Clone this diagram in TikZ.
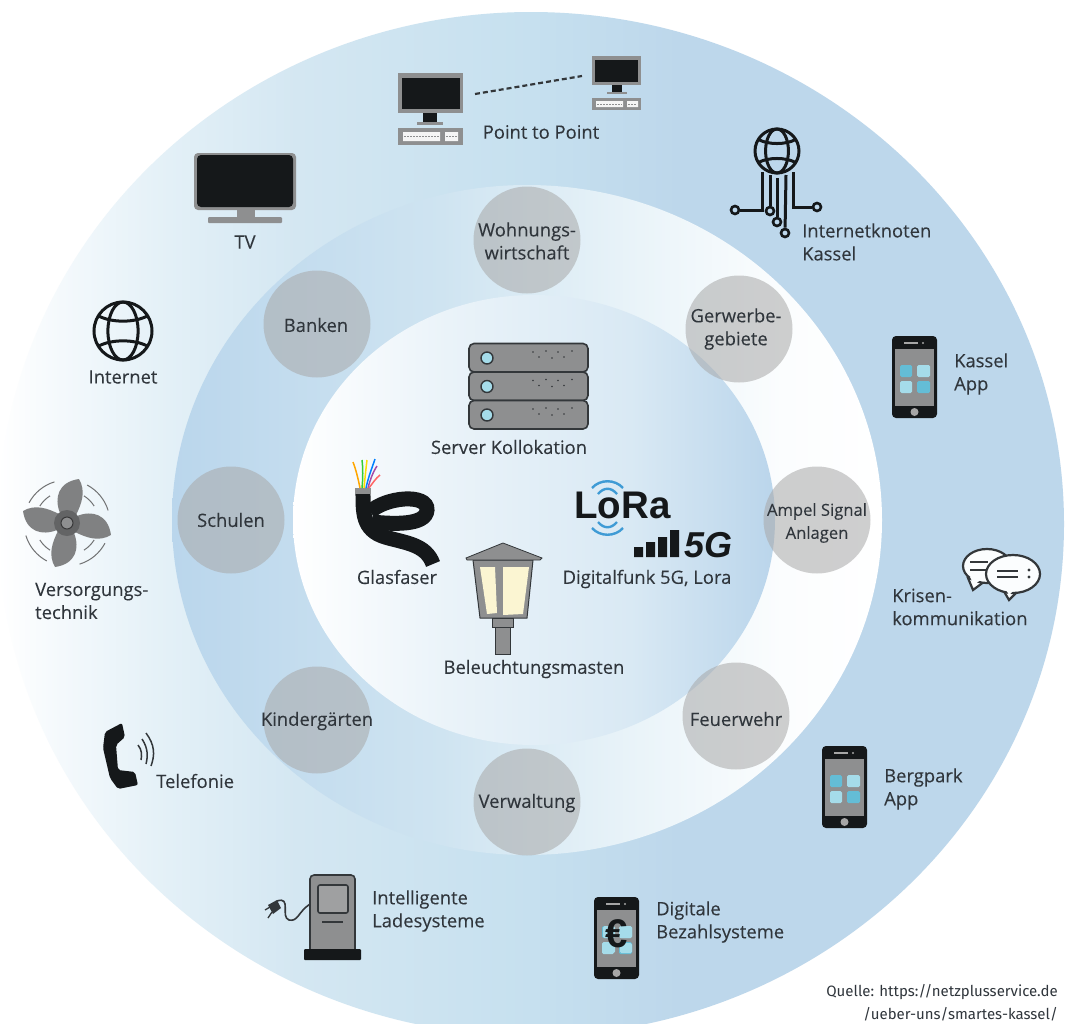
\documentclass[tikz,border=0pt]{standalone}
\usepackage{fontspec}
\setmainfont[FakeBold=0.12]{Open Sans}
\newfontfamily\srcfont{Fira Sans}
\newfontfamily\boldfont{Liberation Sans}
\definecolor{ink}{HTML}{30363C}
\definecolor{iconblack}{HTML}{15181A}
\definecolor{icongrey}{HTML}{8E8F90}
\definecolor{darkline}{HTML}{33373A}
\definecolor{ringblue}{HTML}{BDD7EB}
\definecolor{oA}{HTML}{F4F9FC}\definecolor{oB}{HTML}{E3F0F7}\definecolor{oC}{HTML}{D4E7F2}\definecolor{oD}{HTML}{C6E0EF}
\definecolor{mA}{HTML}{BAD6EC}\definecolor{mB}{HTML}{CFE4F1}\definecolor{mC}{HTML}{EAF4F9}\definecolor{mD}{HTML}{FBFDFE}
\definecolor{iA}{HTML}{EAF3F9}\definecolor{iB}{HTML}{D9E9F4}\definecolor{iC}{HTML}{BAD5EB}
\definecolor{appdark}{HTML}{64BDD6}\definecolor{applight}{HTML}{A5DCEA}
\definecolor{lorablue}{HTML}{3F9BD5}
\definecolor{pane}{HTML}{FBF5D2}
\definecolor{hubgrey}{HTML}{A8A8A8}
\pgfdeclarehorizontalshading{outershade}{100bp}{color(0bp)=(white);color(25bp)=(white);color(28bp)=(oA);color(33bp)=(oB);color(39bp)=(oC);color(50bp)=(oD);color(57bp)=(ringblue);color(100bp)=(ringblue)}
\pgfdeclarehorizontalshading{middleshade}{100bp}{color(0bp)=(mA);color(25bp)=(mA);color(44bp)=(mB);color(58bp)=(mC);color(68bp)=(mD);color(75bp)=(white);color(100bp)=(white)}
\pgfdeclarehorizontalshading{innershade}{100bp}{color(0bp)=(white);color(25bp)=(white);color(41bp)=(iA);color(60bp)=(iB);color(75bp)=(iC);color(100bp)=(iC)}
\tikzset{
 lbl/.style={font=\fontsize{18.4}{23}\selectfont,text=ink,inner sep=0pt,anchor=west,align=left},
 clbl/.style={font=\fontsize{18.4}{23}\selectfont,text=ink,inner sep=0pt,align=center},
 hub/.style={circle,minimum size=107pt,inner sep=0pt,fill=hubgrey,fill opacity=.55},
 wire/.style={line width=3pt,draw=iconblack},
 pinhole/.style={circle,draw=iconblack,line width=2.6pt,fill=none,minimum size=8pt,inner sep=0pt},
 appsq/.style={rounded corners=1.5pt},
 phoneicon/.pic={
  \fill[iconblack,rounded corners=4pt] (0,0) rectangle (45,82);
  \fill[icongrey] (3,13) rectangle (42,70);
  \draw[line width=1.2pt,draw=gray!70] (12,7) -- (26,7);
  \fill[gray!70] (31,7) circle (1.2);
  \fill[gray!70!white] (22.5,76) circle (4);
  \fill[appdark,appsq] (8,29) rectangle (20,41);
  \fill[applight,appsq] (25,29) rectangle (38,41);
  \fill[applight,appsq] (8,45) rectangle (20,57);
  \fill[appdark,appsq] (25,45) rectangle (38,57);
 },
 globeicon/.pic={
  \draw[wire] (0,0) circle (#1);
  \draw[wire] (0,0) ellipse ({0.52*#1} and #1);
  \draw[wire] ({-0.84*#1},{-0.52*#1}) .. controls ({-0.4*#1},{-0.28*#1}) and ({0.4*#1},{-0.28*#1}) .. ({0.84*#1},{-0.52*#1});
  \draw[wire] ({-0.84*#1},{0.52*#1}) .. controls ({-0.4*#1},{0.28*#1}) and ({0.4*#1},{0.28*#1}) .. ({0.84*#1},{0.52*#1});
 },
 keybits/.style={draw=icongrey,line width=1pt,dash pattern=on 2pt off 1pt},
 x=1pt,y=-1pt
}
\begin{document}
\begin{tikzpicture}
\useasboundingbox (0,0) rectangle (1071,1023);
\clip (0,0) rectangle (1071,1023);
\fill[white] (0,0) rectangle (1071,1023);
% rings
\shade[shading=outershade] (531,524) ellipse [x radius=533,y radius=512];
\shade[shading=middleshade] (527,520) ellipse [x radius=355,y radius=335];
\shade[shading=innershade] (534,520) ellipse [x radius=241,y radius=225];
% hub circles
\node[hub] (wohnung) at (527,240) {};
\node[hub] (gewerbe) at (739,329) {};
\node[hub] (ampel) at (817,520) {};
\node[hub] (feuer) at (736,716) {};
\node[hub] (verwalt) at (527,802) {};
\node[hub] (kinder) at (317,720) {};
\node[hub] (schulen) at (231,520) {};
\node[hub] (banken) at (317,324) {};
\node[clbl] (twohnung) at (527,241) {Wohnungs-\\wirtschaft};
\node[clbl] (tgewerbe) at (736,329) {Gerwerbe-\\gebiete};
\node[clbl,font=\fontsize{16.6}{23}\selectfont] (tampel) at (817,523) {Ampel Signal\\Anlagen};
\node[clbl] (tfeuer) at (736,719) {Feuerwehr};
\node[clbl] (tverwalt) at (527,803) {Verwaltung};
\node[clbl] (tkinder) at (317,721) {Kindergärten};
\node[clbl] (tschulen) at (231,520) {Schulen};
\node[clbl] (tbanken) at (316,325) {Banken};
% point to point
\fill[icongrey] (398,73) rectangle (463,113);
\fill[iconblack] (402,78) rectangle (460,109);
\fill[iconblack] (423,113) rectangle (437,122);
\fill[icongrey] (417,122) rectangle (443,125);
\fill[icongrey] (398,128) rectangle (463,145);
\fill[white!92!gray] (403,132) rectangle (440,141) (445,132) rectangle (458,141);
\draw[keybits] (404,136.5) -- (439,136.5) (446,136.5) -- (457,136.5);
\fill[icongrey] (592,56) rectangle (641,85);
\fill[iconblack] (595,60) rectangle (638,82);
\fill[iconblack] (612,85) rectangle (622,92);
\fill[icongrey] (607,92) rectangle (627,94);
\fill[icongrey] (592,98) rectangle (641,110);
\fill[white!92!gray] (596,101) rectangle (623,107) (627,101) rectangle (638,107);
\draw[keybits] (597,104) -- (622,104) (628,104) -- (637,104);
\coordinate (ptpA) at (475,94);
\coordinate (ptpB) at (582,76);
\draw[line width=2.2pt,draw=darkline,dash pattern=on 5pt off 3pt] (ptpA) -- (ptpB);
\node[clbl] (tptp) at (541,132) {Point to Point};
% TV
\fill[icongrey,rounded corners=4pt] (194,153) rectangle (296,210);
\fill[iconblack,rounded corners=4pt] (197,155) rectangle (293,207);
\fill[icongrey] (237,210) rectangle (255,218);
\fill[icongrey,rounded corners=1pt] (208,217) rectangle (282,223);
\node[clbl] (ttv) at (245,242) {TV};
% Internet
\pic at (123,331) {globeicon=29};
\node[clbl] (tinternet) at (123,377) {Internet};
% Fan
\begin{scope}[shift={(67,523)}]
 \foreach \a in {0,90,180,270}{
  \begin{scope}[rotate=\a]
   \fill[icongrey!90!black] (-7,-10) .. controls (-13,-25) and (-9,-41) .. (12,-44) .. controls (19,-32) and (15,-20) .. (9,-8) -- cycle;
   \draw[icongrey!80!black,line width=1pt] (208:43) arc[start angle=208,end angle=253,radius=43];
   \draw[icongrey!80!black,line width=1pt] (212:32) arc[start angle=212,end angle=238,radius=32];
  \end{scope}
 }
 \fill[icongrey!70!black] (0,0) circle (13);
 \draw[icongrey!40!black,line width=1pt,fill=icongrey] (0,0) circle (6);
\end{scope}
\node[lbl,align=left] (tversorg) at (35,601) {Versorgungs-\\technik};
% Telephone
\fill[iconblack,rounded corners=2pt] (122,723) -- (125,737) -- (116,745) -- (118,770) -- (135,772) -- (138,785) -- (118,789) -- (110,778) -- (103,748) -- (105,732) -- cycle;
\draw[darkline,line width=1.5pt] (138,745) .. controls (142,750) and (142,755) .. (141,760);
\draw[darkline,line width=1.5pt] (142,739) .. controls (148,748) and (148,756) .. (146,764);
\draw[darkline,line width=1.5pt] (146,733) .. controls (155,745) and (155,755) .. (151,766);
\node[lbl] (ttel) at (156,781) {Telefonie};
% Charger
\draw[darkline,line width=1.6pt,fill=icongrey,rounded corners=4pt] (310,950) -- (310,875) -- (355,875) -- (355,950);
\draw[darkline,line width=1.6pt,fill=icongrey!85!white,rounded corners=2pt] (318,885) rectangle (348,913);
\draw[darkline,line width=1.4pt] (322,922) -- (343,922);
\fill[iconblack,rounded corners=1pt] (304,949) rectangle (361,960);
\draw[darkline,line width=1.6pt] (310,904) .. controls (298,912) and (298,922) .. (289,920) .. controls (280,917) and (292,896) .. (277,901);
\fill[darkline] (268,905) -- (277,900) -- (281,908) -- (273,914) -- cycle;
\draw[darkline,line width=1.3pt] (270,907) -- (265,910) (272,912) -- (268,918);
\node[lbl] (tlade) at (372,911) {Intelligente\\Ladesysteme};
% Digitale Bezahlsysteme
\pic at (594,897) {phoneicon};
\fill[applight,appsq] (603,926) rectangle (615,938) (620,926) rectangle (632,938) (603,943) rectangle (615,953) (620,943) rectangle (632,953);
\node[font=\boldfont\bfseries\fontsize{40}{40}\selectfont,text=iconblack,inner sep=0pt] (euro) at (617,934) {€};
\node[lbl] (tbezahl) at (656,922) {Digitale\\Bezahlsysteme};
% Bergpark
\pic at (822,746) {phoneicon};
\node[lbl] (tberg) at (884,789) {Bergpark\\App};
% Kassel app
\pic at (892,336) {phoneicon};
\node[lbl] (tkassel) at (954,374) {Kassel\\App};
% Krisen
\begin{scope}
 \draw[darkline,line width=2.2pt,fill=white!94!ringblue] (968,578) -- (973,590) -- (985,581) -- cycle;
 \draw[darkline,line width=2.2pt,fill=white!94!ringblue] (987,566) ellipse [x radius=24,y radius=17];
 \fill[white!94!ringblue] (970,577) -- (974,585) -- (983,578) -- (980,572) -- cycle;
 \draw[darkline,line width=2.2pt,fill=white!94!ringblue] (1002,588) -- (1009,600) -- (1021,588) -- cycle;
 \draw[darkline,line width=2.2pt,fill=white!94!ringblue] (1013,574) ellipse [x radius=27,y radius=19];
 \fill[white!94!ringblue] (1004,586) -- (1009,595) -- (1018,586) -- (1016,582) -- cycle;
 \draw[darkline,line width=2.2pt] (970,562) -- (988,562) (970,570) -- (986,570);
 \draw[darkline,line width=2.2pt] (997,571) -- (1018,571) (997,577) -- (1018,577);
 \fill[darkline] (1029,570) circle (1.6) (1029,577) circle (1.6);
\end{scope}
\node[lbl] (tkrisen) at (892,607) {Krisen-\\kommunikation};
% Internetknoten
\pic at (777,151) {globeicon=22};
\node[pinhole] (pa) at (735,210) {};
\node[pinhole] (pb) at (770,211) {};
\node[pinhole] (pc) at (777,222) {};
\node[pinhole] (pd) at (785,233) {};
\node[pinhole] (pe) at (817,207) {};
\coordinate (sa) at (762,172);\coordinate (sb) at (770,175);\coordinate (sc) at (777,178);\coordinate (sd) at (786,175);\coordinate (se) at (793,172);
\draw[wire] (sa) |- (pa);
\draw[wire] (sb) -- (pb);
\draw[wire] (sc) -- (pc);
\draw[wire] (sd) -- (pd);
\draw[wire] (se) |- (pe);
\node[lbl] (tknoten) at (802,242) {Internetknoten\\Kassel};
% Server
\foreach \d in {0,28.5,57}{
 \begin{scope}[yshift=-\d pt]
  \draw[darkline,line width=1.6pt,fill=icongrey,rounded corners=5pt] (469,343.5) rectangle (588,372);
  \draw[darkline,line width=1.4pt,fill=applight] (487,358) circle (6);
  \fill[darkline] (533,352) circle (.9) (546,351) circle (.9) (558,352) circle (.9) (572,351) circle (.9) (539,357) circle (.9) (552,358) circle (.9) (564,357) circle (.9);
 \end{scope}
}
\node[clbl] (tserver) at (509,447) {Server Kollokation};
% Glasfaser
\draw[iconblack,line width=15pt] (363,491) .. controls (363,512) and (362,530) .. (385,537) .. controls (405,543) and (426,544) .. (433,564);
\draw[iconblack,line width=15pt] (370,512) .. controls (385,497) and (428,493) .. (427,510) .. controls (426,526) and (392,524) .. (372,522);
\fill[icongrey] (355,488) rectangle (371,494);
\draw[line width=1.5pt,draw=orange!70!yellow] (360,488) .. controls (358,478) and (356,470) .. (353,462);
\draw[line width=1.5pt,draw=green!60!gray] (362,488) .. controls (363,478) and (363,468) .. (362,460);
\draw[line width=1.5pt,draw=yellow!80!orange] (364,488) .. controls (365,478) and (366,468) .. (367,460);
\draw[line width=1.5pt,draw=blue!50!cyan] (366,488) .. controls (368,478) and (372,468) .. (375,459);
\draw[line width=1.5pt,draw=violet!70!white] (368,488) .. controls (370,480) and (373,472) .. (377,466);
\draw[line width=1.5pt,draw=red!60!white] (369,488) .. controls (372,484) and (376,478) .. (380,475);
\node[clbl] (tglas) at (397,577) {Glasfaser};
% LoRa
\node[font=\boldfont\bfseries\fontsize{38.5}{38}\selectfont,text=iconblack,inner sep=0pt,anchor=base west] (lora) at (574,518) {LoRa};
\draw[lorablue,line width=2.4pt] (592,488) .. controls (600,479) and (615,479) .. (623,488);
\draw[lorablue,line width=2.4pt] (598,494) .. controls (604,487) and (611,487) .. (617,494);
\draw[lorablue,line width=2.4pt] (592,528) .. controls (600,537) and (615,537) .. (623,528);
\draw[lorablue,line width=2.4pt] (598,522) .. controls (604,529) and (611,529) .. (617,522);
\fill[iconblack] (634,547) rectangle (643,557) (646,542) rectangle (655,557) (658,537) rectangle (667,557) (670,530) rectangle (679,557);
\node[font=\boldfont\bfseries\itshape\fontsize{36}{36}\selectfont,text=iconblack,inner sep=0pt,anchor=base west] (fiveg) at (684,557) {5G};
\node[clbl] (tfunk) at (647,579) {Digitalfunk 5G, Lora};
% Lamp
\draw[darkline,line width=1pt,fill=icongrey] (473,560) -- (533,560) -- (527,618) -- (480,618) -- cycle;
\fill[pane] (480,567) -- (495,567) -- (497,613) -- (487,614) -- cycle;
\fill[pane] (503,567) -- (529,567) -- (523,614) -- (503,615) -- cycle;
\fill[icongrey,draw=darkline,line width=.8pt] (466,558) -- (503,543) -- (542,558) -- (540,560) -- (467,560) -- cycle;
\fill[icongrey,draw=darkline,line width=.8pt] (492,618) rectangle (513,627);
\fill[icongrey,draw=darkline,line width=.8pt] (495,627) rectangle (510,654);
\node[clbl] (tlamp) at (534,669) {Beleuchtungsmasten};
% source
\node[font=\srcfont\fontsize{15}{23}\selectfont,text=ink,inner sep=0pt,align=right,anchor=east] (quelle) at (1058,1003) {Quelle: https://netzplusservice.de\\/ueber-uns/smartes-kassel/};
\end{tikzpicture}
\end{document}
